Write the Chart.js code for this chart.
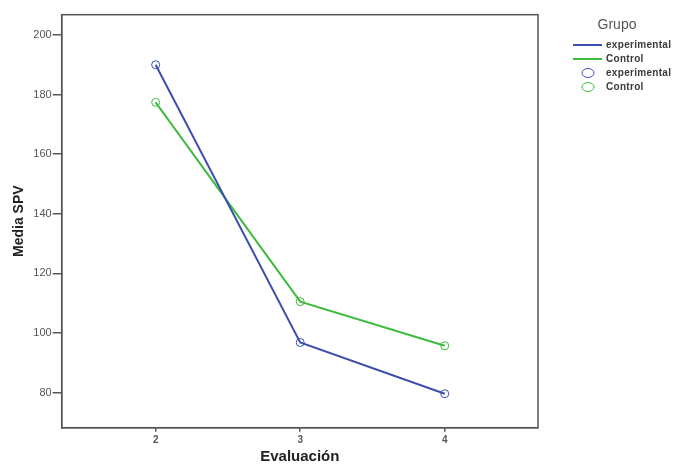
<!DOCTYPE html>
<html>
<head>
<meta charset="utf-8">
<script src="https://cdn.jsdelivr.net/npm/chart.js@4/dist/chart.umd.min.js"></script>
<style>
  html, body { margin: 0; padding: 0; background: #ffffff; }
  #wrap { width: 675px; height: 464px; position: relative; }
</style>
</head>
<body>
<div id="wrap"><canvas id="chart" width="675" height="464"></canvas></div>
<script>
// Evaluaciones y medias de SPV por grupo
const evaluaciones = [2, 3, 4];
const mediaExperimental = [190.0, 96.8, 79.6];
const mediaControl = [177.4, 110.5, 95.7];
const yTicks = [80, 100, 120, 140, 160, 180, 200];
const grupos = ['experimental', 'Control'];

const COLOR_EXP = '#3d4fae';
const COLOR_CTRL = '#3dbb3d';
const INK = '#3a3a3a';

const toPoints = (vals) => evaluaciones.map((e, i) => ({ x: e, y: vals[i] }));

// Marco completo del área de trazado
const framePlugin = {
  id: 'frame',
  afterDraw(chart) {
    const { ctx, chartArea: a } = chart;
    ctx.save();
    ctx.strokeStyle = '#555555';
    ctx.lineWidth = 1.5;
    ctx.strokeRect(a.left, a.top, a.right - a.left, a.bottom - a.top);
    ctx.restore();
  }
};

// Leyenda de estilo SPSS: líneas y luego marcadores
const legendPlugin = {
  id: 'grupoLegend',
  afterDraw(chart) {
    const { ctx } = chart;
    ctx.save();
    ctx.fillStyle = '#555555';
    ctx.font = '14px "Liberation Sans", Arial, sans-serif';
    ctx.textAlign = 'center';
    ctx.textBaseline = 'middle';
    ctx.fillText('Grupo', 617, 25);

    ctx.font = 'bold 10px "Liberation Sans", Arial, sans-serif';
    if ('letterSpacing' in ctx) ctx.letterSpacing = '0.3px';
    ctx.textAlign = 'left';
    const x0 = 573, x1 = 602, tx = 606;
    let y = 45;
    chart.data.datasets.forEach((ds) => {
      ctx.strokeStyle = ds.borderColor;
      ctx.lineWidth = 2;
      ctx.beginPath();
      ctx.moveTo(x0, y);
      ctx.lineTo(x1, y);
      ctx.stroke();
      ctx.fillStyle = INK;
      ctx.fillText(ds.label, tx, y);
      y += 14;
    });
    chart.data.datasets.forEach((ds) => {
      ctx.strokeStyle = ds.borderColor;
      ctx.lineWidth = 1;
      ctx.beginPath();
      ctx.ellipse(588, y, 6, 4.5, 0, 0, Math.PI * 2);
      ctx.stroke();
      ctx.fillStyle = INK;
      ctx.fillText(ds.label, tx, y);
      y += 14;
    });
    ctx.restore();
  }
};

new Chart(document.getElementById('chart'), {
  type: 'line',
  data: {
    datasets: [
      {
        label: grupos[0],
        data: toPoints(mediaExperimental),
        borderColor: COLOR_EXP,
        backgroundColor: 'rgba(0,0,0,0)',
        borderWidth: 2,
        pointRadius: 4,
        pointBorderWidth: 1,
        pointBackgroundColor: 'rgba(255,255,255,0)',
        pointBorderColor: COLOR_EXP,
        tension: 0
      },
      {
        label: grupos[1],
        data: toPoints(mediaControl),
        borderColor: COLOR_CTRL,
        backgroundColor: 'rgba(0,0,0,0)',
        borderWidth: 2,
        pointRadius: 4,
        pointBorderWidth: 1,
        pointBackgroundColor: 'rgba(255,255,255,0)',
        pointBorderColor: COLOR_CTRL,
        tension: 0
      }
    ]
  },
  options: {
    responsive: false,
    animation: false,
    devicePixelRatio: 1,
    layout: { padding: { top: 14.7, right: 137, left: 0, bottom: 0 } },
    plugins: {
      legend: { display: false },
      tooltip: { enabled: false }
    },
    scales: {
      x: {
        type: 'linear',
        min: 1.35,
        max: 4.645,
        afterBuildTicks: (s) => { s.ticks = evaluaciones.map(v => ({ value: v })); },
        afterFit: (s) => { s.height = 464 - 427.7; },
        grid: { drawOnChartArea: false, drawTicks: true, tickLength: 4, color: '#555555', lineWidth: 1.5 },
        border: { display: true, color: '#555555', width: 1.5 },
        ticks: {
          color: '#555555',
          padding: 3,
          font: { family: '"Liberation Sans", Arial, sans-serif', size: 10, weight: 'bold' },
          callback: (v) => String(v)
        },
        title: {
          display: true,
          text: 'Evaluación',
          color: '#222222',
          padding: { top: 0, bottom: 0 },
          font: { family: '"Liberation Sans", Arial, sans-serif', size: 15, weight: 'bold', lineHeight: 0.9 }
        }
      },
      y: {
        type: 'linear',
        min: 68.2,
        max: 206.8,
        afterBuildTicks: (s) => { s.ticks = yTicks.map(v => ({ value: v })); },
        afterFit: (s) => { s.width = 61.7; },
        grid: { drawOnChartArea: false, drawTicks: true, tickLength: 9, color: '#555555', lineWidth: 1.5 },
        border: { display: true, color: '#555555', width: 1.5 },
        ticks: {
          color: '#555555',
          padding: 1,
          font: { family: '"Liberation Sans", Arial, sans-serif', size: 11 },
          callback: (v) => String(v)
        },
        title: {
          display: true,
          text: 'Media SPV',
          color: '#222222',
          padding: { top: 11, bottom: 0 },
          font: { family: '"Liberation Sans", Arial, sans-serif', size: 14, weight: 'bold' }
        }
      }
    }
  },
  plugins: [framePlugin, legendPlugin]
});
</script>
</body>
</html>
